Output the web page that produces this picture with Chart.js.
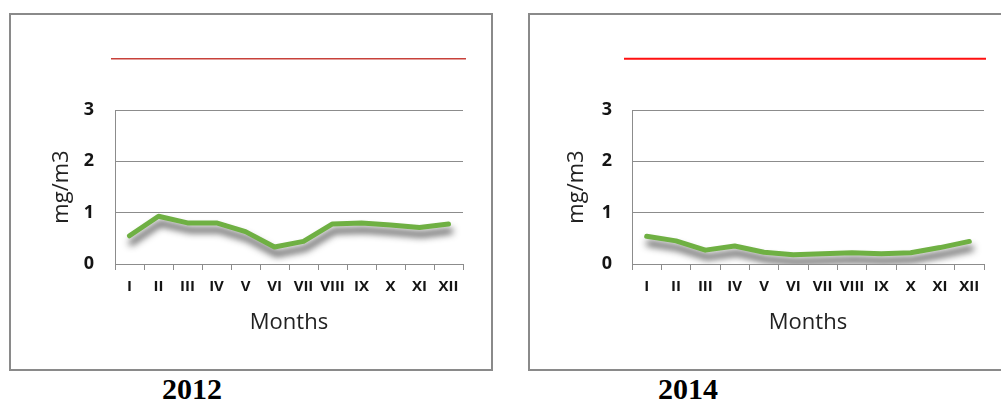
<!DOCTYPE html>
<html>
<head>
<meta charset="utf-8">
<script src="https://cdn.jsdelivr.net/npm/chart.js@4/dist/chart.umd.min.js"></script>
<style>
  html, body { margin: 0; padding: 0; background: #fff; overflow: hidden; }
  body { width: 1001px; height: 403px; position: relative; overflow: hidden; }
  .panel { position: absolute; top: 13px; height: 354px; border: 2px solid #8a8a8a; background: #fff; }
  .panel canvas { display: block; }
  .year { position: absolute; top: 372px; font-family: "Liberation Serif", "Times New Roman", serif; font-weight: bold; font-size: 30px; color: #000; line-height: 34px; }
</style>
</head>
<body>
<div class="panel" style="left:9px; width:480px;"><canvas id="c2012" width="480" height="354"></canvas></div>
<div class="panel" style="left:528px; width:500px;"><canvas id="c2014" width="480" height="354"></canvas></div>
<div class="year" style="left:162px;">2012</div>
<div class="year" style="left:658px;">2014</div>
<script>
// Month labels (Roman numerals)
const months = ['I', 'II', 'III', 'IV', 'V', 'VI', 'VII', 'VIII', 'IX', 'X', 'XI', 'XII'];

// Monthly mean concentrations, mg/m3
const values2012 = [0.55, 0.93, 0.80, 0.80, 0.63, 0.33, 0.44, 0.78, 0.80, 0.76, 0.71, 0.78];
const values2014 = [0.54, 0.45, 0.27, 0.35, 0.23, 0.18, 0.20, 0.22, 0.20, 0.22, 0.32, 0.44];

// Permissible limit, mg/m3
const limit2012 = 4;
const limit2014 = 4;

// Axis ticks
const yTicks = [0, 1, 2, 3];

// Soft drop shadow under the measurement line
const lineShadow = {
  id: 'lineShadow',
  beforeDatasetDraw(chart, args) {
    if (args.index !== 0) return;
    const ctx = chart.ctx;
    ctx.save();
    ctx.shadowColor = 'rgba(60,60,60,0.95)';
    ctx.shadowBlur = 7;
    ctx.shadowOffsetX = 2;
    ctx.shadowOffsetY = 7;
  },
  afterDatasetDraw(chart, args) {
    if (args.index !== 0) return;
    chart.ctx.restore();
  }
};

function makeChart(id, values, limit, limitColor, limitWidth, opts) {
  const ctx = document.getElementById(id);
  return new Chart(ctx, {
    type: 'line',
    data: {
      labels: months,
      datasets: [
        {
          data: values,
          borderColor: '#6fb043',
          borderWidth: 5,
          borderJoinStyle: 'round',
          borderCapStyle: 'round',
          pointRadius: 0,
          tension: 0,
          fill: false
        },
        {
          // limit line runs slightly past both ends of the plot area
          data: [{ x: 0, y: limit }, { x: 1, y: limit }],
          xAxisID: 'xLimit',
          borderColor: limitColor,
          borderWidth: limitWidth,
          pointRadius: 0,
          fill: false,
          clip: false
        }
      ]
    },
    options: {
      responsive: false,
      animation: false,
      devicePixelRatio: 1,
      layout: { padding: { top: 95, right: opts.padRight, left: 0, bottom: 0 } },
      plugins: { legend: { display: false }, tooltip: { enabled: false } },
      scales: {
        x: {
          type: 'category',
          offset: true,
          afterFit(scale) { scale.height = 105; },
          grid: { display: true, drawOnChartArea: false, drawTicks: true, tickLength: 6, offset: true, color: '#8c8c8c', lineWidth: 1 },
          border: { display: true, color: '#8c8c8c', width: 1 },
          ticks: {
            autoSkip: false, maxRotation: 0, minRotation: 0, padding: 8,
            color: '#141414',
            font: { family: '"Open Sans", sans-serif', size: 15, weight: 'bold' }
          },
          title: {
            display: true, text: 'Months', color: '#222',
            font: { family: '"Open Sans", sans-serif', size: 22 },
            padding: { top: 0, bottom: 33 }
          }
        },
        xLimit: {
          type: 'linear',
          display: false,
          min: opts.limitMin,
          max: opts.limitMax
        },
        y: {
          min: 0, max: 3,
          afterFit(scale) { scale.width = opts.yWidth; },
          afterBuildTicks(scale) { scale.ticks = yTicks.map(v => ({ value: v })); },
          grid: { color: '#8c8c8c', lineWidth: 1, drawTicks: false },
          border: { display: true, color: '#8c8c8c', width: 1 },
          ticks: {
            padding: opts.tickPad,
            color: '#141414',
            font: { family: '"Open Sans", sans-serif', size: 18, weight: 'bold' }
          },
          title: {
            display: true, text: 'mg/m3', color: '#222',
            font: { family: '"Open Sans", sans-serif', size: 22 },
            padding: { top: opts.titlePad, bottom: 0 }
          }
        }
      }
    },
    plugins: [lineShadow]
  });
}

makeChart('c2012', values2012, limit2012, '#c8413a', 1.5,
  { padRight: 28, yWidth: 104, tickPad: 21, titlePad: 38, limitMin: 0.0113, limitMax: 0.9916 });
makeChart('c2014', values2014, limit2014, '#ff1010', 2,
  { padRight: 26, yWidth: 102, tickPad: 20, titlePad: 34, limitMin: 0.0221, limitMax: 0.9945 });
</script>
</body>
</html>
